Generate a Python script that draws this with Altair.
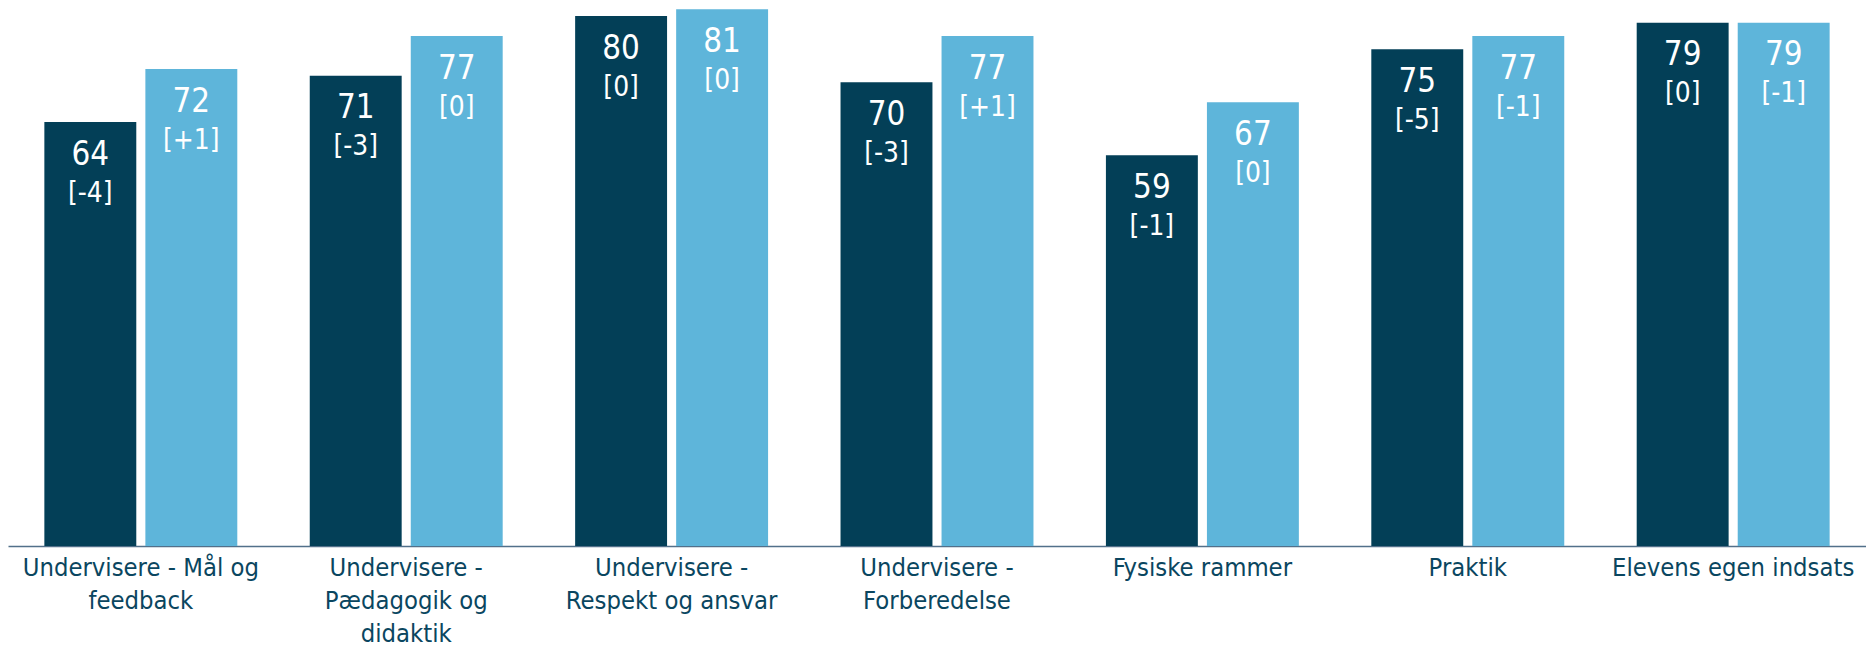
import json
import altair as alt
import pandas as pd

categories = [
    "Undervisere - Mål og feedback",
    "Undervisere - Pædagogik og didaktik",
    "Undervisere - Respekt og ansvar",
    "Undervisere - Forberedelse",
    "Fysiske rammer",
    "Praktik",
    "Elevens egen indsats",
]
label_lines = [
    ["Undervisere - Mål og", "feedback"],
    ["Undervisere -", "Pædagogik og", "didaktik"],
    ["Undervisere -", "Respekt og ansvar"],
    ["Undervisere -", "Forberedelse"],
    ["Fysiske rammer"],
    ["Praktik"],
    ["Elevens egen indsats"],
]
series = ["Skolen", "Landsplan"]
values_a = [64, 71, 80, 70, 59, 75, 79]
values_b = [72, 77, 81, 77, 67, 77, 79]
delta_a = ["-4", "-3", "0", "-3", "-1", "-5", "0"]
delta_b = ["+1", "0", "0", "+1", "0", "-1", "-1"]

DARK = "#033F57"
LIGHT = "#5EB5DA"
TEXT = "#0A4660"
FONT = "DejaVu Sans Condensed, DejaVu Sans"

rows = []
for i, c in enumerate(categories):
    rows.append(dict(cat=c, series=series[0], value=values_a[i], delta=f"[{delta_a[i]}]"))
    rows.append(dict(cat=c, series=series[1], value=values_b[i], delta=f"[{delta_b[i]}]"))
df = pd.DataFrame(rows)

label_map = {c: l for c, l in zip(categories, label_lines)}
label_expr = json.dumps(label_map, ensure_ascii=False) + "[datum.label]"

x = alt.X(
    "cat:N",
    sort=categories,
    scale=alt.Scale(paddingInner=0.273, paddingOuter=0.137),
    axis=alt.Axis(
        title=None,
        labelExpr=label_expr,
        labelAngle=0,
        labelFont=FONT,
        labelFontSize=25.5,
        labelColor=TEXT,
        labelLineHeight=33,
        labelPadding=10,
        labelLimit=500,
        ticks=False,
        domainColor="#52708A",
        domainWidth=1.5,
    ),
)
xo = alt.XOffset("series:N", sort=series, scale=alt.Scale(paddingInner=0.09, paddingOuter=0))
y = alt.Y("value:Q", scale=alt.Scale(domain=[0, 81], nice=False, zero=True), axis=None)

base = alt.Chart(df).encode(x=x, xOffset=xo, y=y)

bars = base.mark_bar().encode(
    color=alt.Color("series:N", scale=alt.Scale(domain=series, range=[DARK, LIGHT]), legend=None)
)
vals = base.mark_text(dy=33, baseline="middle", align="center", fontSize=33, color="white", font=FONT).encode(
    text="value:Q"
)
deltas = base.mark_text(dy=72, baseline="middle", align="center", fontSize=28, color="white", font=FONT).encode(
    text="delta:N"
)

chart = (
    alt.layer(bars, vals, deltas)
    .properties(width=1866, height=539, padding=0)
    .configure_view(stroke=None)
)

chart.save("out.html", embed_options={"renderer": "svg", "actions": False})
